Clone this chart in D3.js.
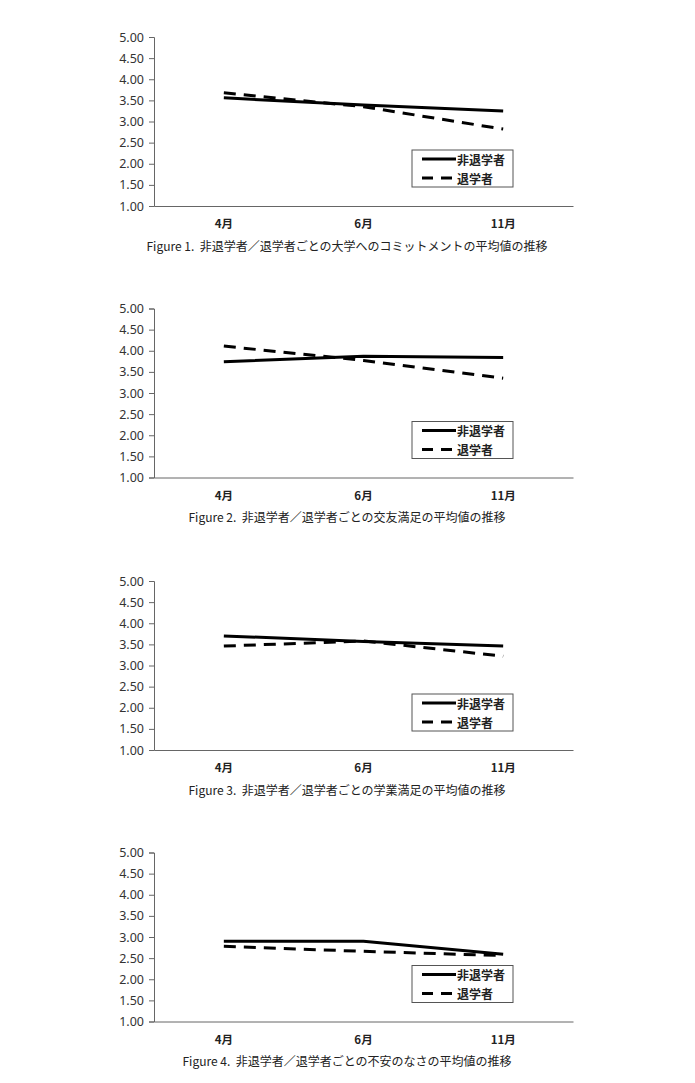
<!DOCTYPE html>
<html>
<head>
<meta charset="utf-8">
<script src="https://cdn.jsdelivr.net/npm/d3@7"></script>
<style>
  body { margin: 0; background: #fff; }
</style>
</head>
<body>
<div id="wrapper"></div>
<script>
const months = ['4月', '6月', '11月']
const yTicks = [1.00, 1.50, 2.00, 2.50, 3.00, 3.50, 4.00, 4.50, 5.00]
const seriesNames = ['非退学者', '退学者']

const captions = [
  'Figure 1.  非退学者／退学者ごとの大学へのコミットメントの平均値の推移',
  'Figure 2.  非退学者／退学者ごとの交友満足の平均値の推移',
  'Figure 3.  非退学者／退学者ごとの学業満足の平均値の推移',
  'Figure 4.  非退学者／退学者ごとの不安のなさの平均値の推移'
]

// 非退学者 (solid)
const nonDropout = [
  [3.56, 3.39, 3.25],
  [3.74, 3.87, 3.84],
  [3.70, 3.57, 3.46],
  [2.90, 2.90, 2.59]
]
// 退学者 (dashed)
const dropout = [
  [3.68, 3.35, 2.82],
  [4.11, 3.77, 3.35],
  [3.46, 3.58, 3.22],
  [2.78, 2.66, 2.56]
]

const panelTops = [37, 308.5, 581, 852.5]

let dimensions = {
  width: 695,
  height: 1083,
  left: 154,
  right: 573,
  plotHeight: 169
}

const wrapper = d3.select('#wrapper')
  .append('svg')
  .attr('width', dimensions.width)
  .attr('height', dimensions.height)

const xScale = d3.scaleBand()
  .domain(months)
  .range([dimensions.left, dimensions.right])

const yScale = d3.scaleLinear()
  .domain([1, 5])
  .range([dimensions.plotHeight, 0])

const xPos = d => xScale(d) + xScale.bandwidth() / 2

const styles = [
  { dash: null },
  { dash: '12,8' }
]

captions.forEach((caption, i) => {
  const panel = wrapper.append('g')
    .attr('transform', `translate(0, ${panelTops[i]})`)

  // y axis
  const yAxis = d3.axisLeft(yScale)
    .tickValues(yTicks)
    .tickFormat(d3.format('.2f'))
    .tickSizeOuter(0)
    .tickSize(5)
  const yg = panel.append('g')
    .attr('transform', `translate(${dimensions.left}, 0)`)
    .call(yAxis)
  yg.select('.domain').attr('stroke', '#666')
  yg.selectAll('.tick line').attr('stroke', '#666')
  yg.selectAll('.tick text')
    .attr('x', -10)
    .attr('fill', '#333')
    .style('font-family', '"Noto Sans", sans-serif')
    .style('font-size', '12.5px')

  // x axis
  const xAxis = d3.axisBottom(xScale)
    .tickSize(0)
    .tickSizeOuter(0)
  const xg = panel.append('g')
    .attr('transform', `translate(0, ${dimensions.plotHeight})`)
    .call(xAxis)
  xg.select('.domain').attr('stroke', '#666')
  xg.selectAll('.tick text')
    .attr('y', 14)
    .attr('fill', '#222')
    .style('font-family', '"Noto Sans CJK JP", sans-serif')
    .style('font-size', '11.5px')
    .style('font-weight', 'bold')

  // lines
  const line = d3.line()
    .x((d, j) => xPos(months[j]))
    .y(d => yScale(d))

  const sets = [nonDropout[i], dropout[i]]
  sets.forEach((values, k) => {
    panel.append('path')
      .datum(values)
      .attr('d', line)
      .attr('fill', 'none')
      .attr('stroke', '#000')
      .attr('stroke-width', 3)
      .attr('stroke-dasharray', styles[k].dash)
  })

  // legend
  const legend = panel.append('g')
    .attr('transform', 'translate(412, 113)')
  legend.append('rect')
    .attr('width', 101)
    .attr('height', 37)
    .attr('fill', '#fff')
    .attr('stroke', '#555')
    .attr('stroke-width', 1)
  seriesNames.forEach((name, k) => {
    const y = 9 + k * 19
    legend.append('line')
      .attr('x1', 10)
      .attr('x2', 44)
      .attr('y1', y)
      .attr('y2', y)
      .attr('stroke', '#000')
      .attr('stroke-width', 3)
      .attr('stroke-dasharray', styles[k].dash ? '11,8' : null)
    legend.append('text')
      .attr('x', 45)
      .attr('y', y)
      .attr('dominant-baseline', 'central')
      .attr('fill', '#222')
      .style('font-family', '"Noto Sans CJK JP", sans-serif')
      .style('font-size', '12px')
      .style('font-weight', 'bold')
      .text(name)
  })

  // caption
  panel.append('text')
    .attr('x', 347)
    .attr('y', 208)
    .attr('text-anchor', 'middle')
    .attr('dominant-baseline', 'central')
    .attr('fill', '#222')
    .style('font-family', '"Noto Sans CJK JP", sans-serif')
    .style('font-size', '12px')
    .style('white-space', 'pre')
    .text(caption)
})
</script>
</body>
</html>
